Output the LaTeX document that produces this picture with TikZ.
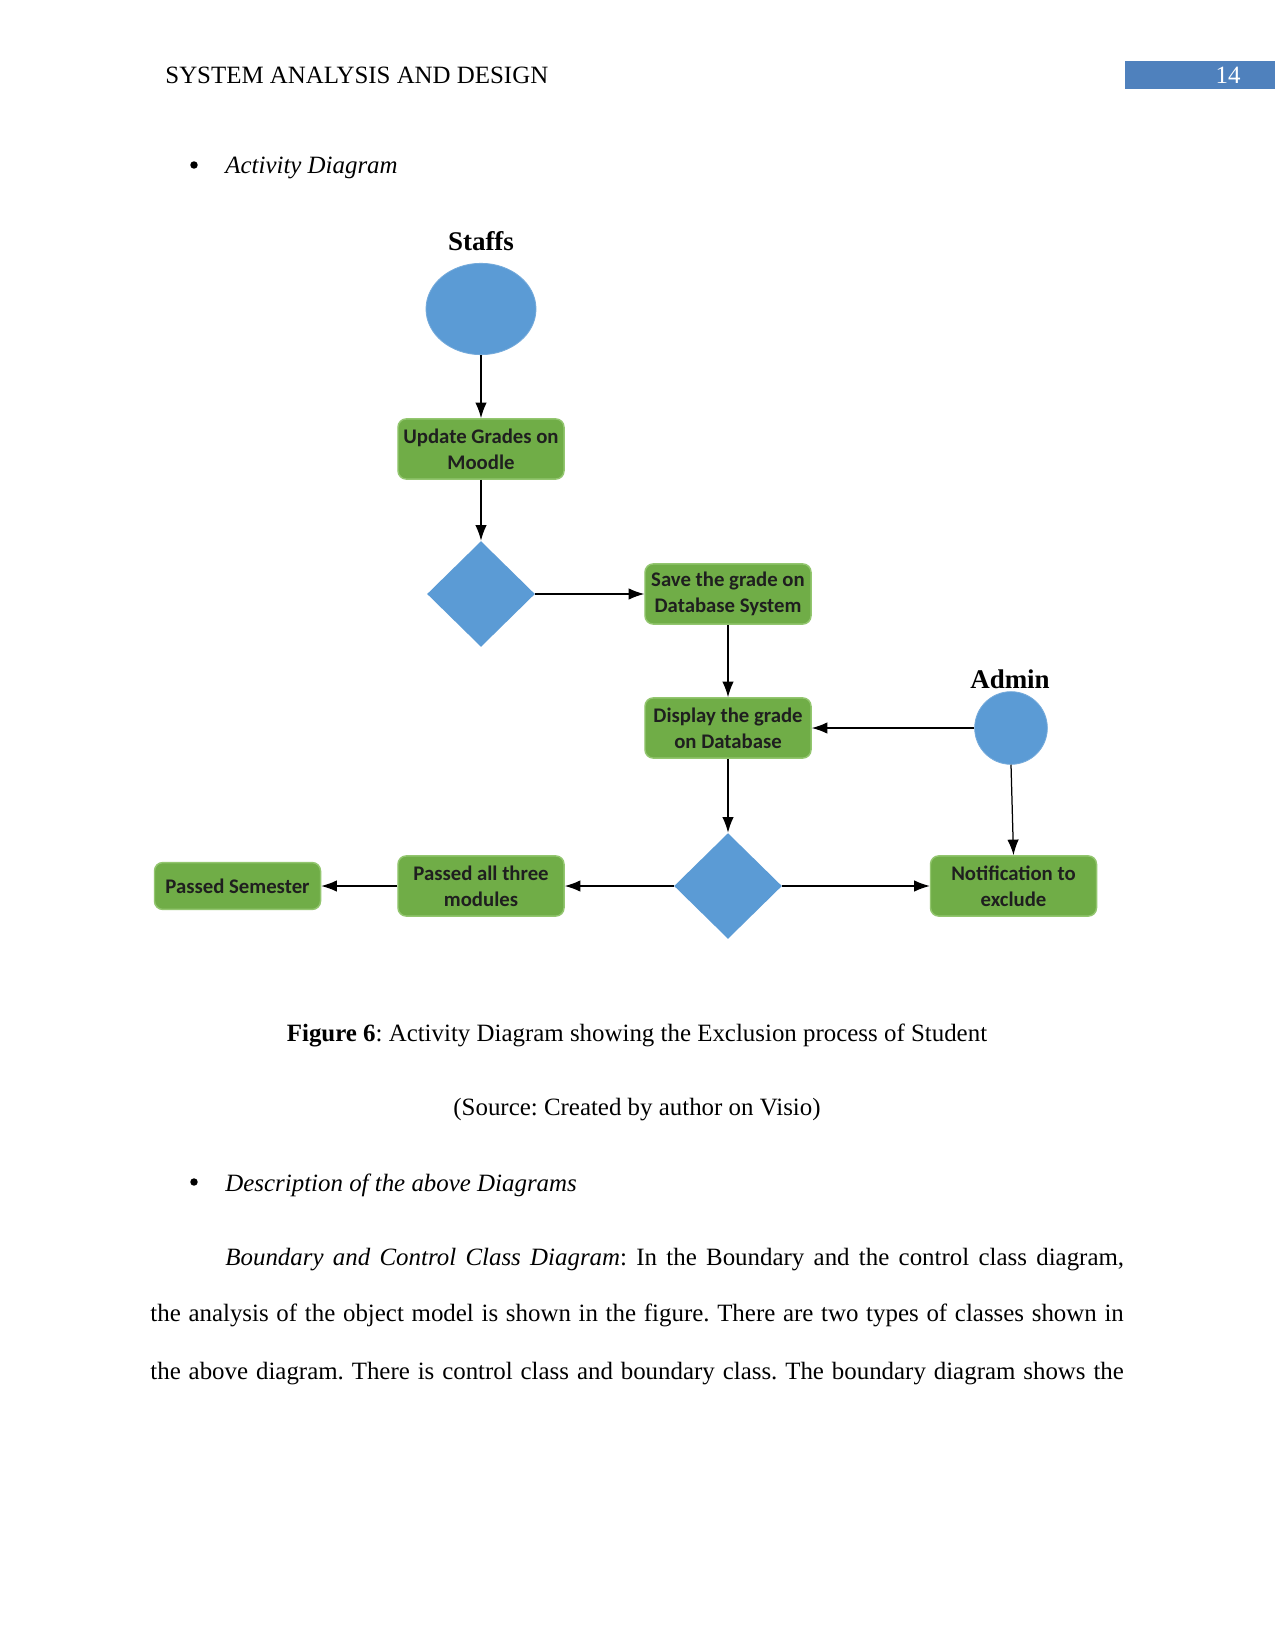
\documentclass[tikz,border=0pt]{standalone}
\usepackage{fontspec}
\setmainfont{Liberation Serif}
\newfontfamily\boxfont{Carlito}
\usetikzlibrary{shapes.geometric,arrows.meta}
\definecolor{boxgreen}{HTML}{70AD47}
\definecolor{boxedge}{HTML}{93C66F}
\definecolor{nodeblue}{HTML}{5B9BD5}
\definecolor{headblue}{HTML}{4F81BD}
\begin{document}
\frenchspacing
\begin{tikzpicture}[x=0.4818pt,y=-0.4818pt,
  act/.style={draw=boxedge, fill=boxgreen, rounded corners=4pt, line width=0.7pt,
    minimum width=80pt, minimum height=29pt, inner sep=0pt, align=center,
    font=\boxfont\bfseries\fontsize{10}{12.7}\selectfont, text=black!88},
  startnode/.style={ellipse, fill=nodeblue, draw=nodeblue!85!white, inner sep=0pt},
  decision/.style={diamond, fill=nodeblue, inner sep=0pt, minimum width=52pt, minimum height=51pt},
  flow/.style={-{Latex[length=7.5pt,width=5.5pt]}, line width=0.6pt},
  lane/.style={font=\bfseries\fontsize{13}{15}\selectfont},
  dot/.style={circle, fill=black, inner sep=0pt, minimum size=3.6pt},
  body/.style={font=\fontsize{12}{14}\selectfont, inner sep=0pt}]
\useasboundingbox (0,0) rectangle (1275,1650);
\fill[white] (0,0) rectangle (1275,1650);

% header
\node[body, anchor=base west] (head) at (165,84) {SYSTEM ANALYSIS AND DESIGN};
\fill[headblue] (1125,61) rectangle (1275,89);
\node[body, anchor=base, text=white] (pagenum) at (1228,84) {14};

% bullet 1
\node[dot] (b1) at (194,165) {};
\node[body, anchor=base west] (t1) at (225,174) {\textit{Activity Diagram}};

% diagram
\node[lane] (staffslbl) at (481,241) {Staffs};
\node[startnode, minimum width=53pt, minimum height=44pt] (staffs) at (481,309) {};
\node[act] (update) at (481,449) {Update Grades on\\Moodle};
\node[decision] (dia1) at (481,594) {};
\node[act] (save) at (728,594) {Save the grade on\\Database System};
\node[act] (display) at (728,728) {Display the grade\\on Database};
\node[lane] (adminlbl) at (1010,679) {Admin};
\node[startnode, minimum width=35pt, minimum height=35pt] (admin) at (1011,728) {};
\node[decision] (dia2) at (728,886) {};
\node[act] (passed) at (481,886) {Passed all three\\modules};
\node[act, minimum height=22.6pt] (semester) at (237.5,886) {Passed Semester};
\node[act] (notify) at (1013.5,886) {Notification to\\exclude};

\draw[flow] (staffs.south) -- (update.north);
\draw[flow] (update.south) -- (dia1.north);
\draw[flow] (dia1.east) -- (save.west);
\draw[flow] (save.south) -- (display.north);
\draw[flow] (admin.west) -- (display.east);
\draw[flow] (admin.south) -- (notify.north);
\draw[flow] (display.south) -- (dia2.north);
\draw[flow] (dia2.west) -- (passed.east);
\draw[flow] (passed.west) -- (semester.east);
\draw[flow] (dia2.east) -- (notify.west);

% captions
\node[body, anchor=base] (cap) at (637,1041) {\textbf{Figure 6}: Activity Diagram showing the Exclusion process of Student};
\node[body, anchor=base] (src) at (637,1115) {(Source: Created by author on Visio)};

% bullet 2
\node[dot] (b2) at (194,1182) {};
\node[body, anchor=base west] (t2) at (225,1191) {\textit{Description of the above Diagrams}};

% paragraph
\node[body, anchor=base west] (p1) at (225,1265) {\makebox[433pt][s]{\textit{Boundary and Control Class Diagram}: In the Boundary and the control class diagram,}};
\node[body, anchor=base west] (p2) at (150,1321) {\makebox[469pt][s]{the analysis of the object model is shown in the figure. There are two types of classes shown in}};
\node[body, anchor=base west] (p3) at (150,1379) {\makebox[469pt][s]{the above diagram. There is control class and boundary class. The boundary diagram shows the}};
\end{tikzpicture}
\end{document}
